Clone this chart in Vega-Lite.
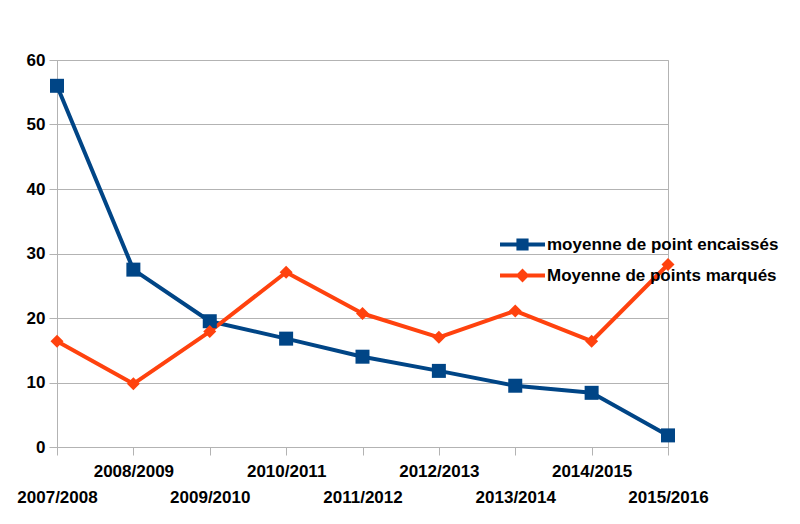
{
  "$schema": "https://vega.github.io/schema/vega-lite/v6.json",
  "autosize": "none",
  "width": 611,
  "height": 387,
  "padding": {"left": 57, "top": 60, "right": 132, "bottom": 77},
  "background": "white",
  "config": {
    "view": {"stroke": "#b3b3b3", "strokeWidth": 1},
    "font": "Liberation Sans"
  },
  "data": {
    "values": [
      {"season": "2007/2008", "series": "moyenne de point encaissés", "value": 56},
      {"season": "2008/2009", "series": "moyenne de point encaissés", "value": 27.5},
      {"season": "2009/2010", "series": "moyenne de point encaissés", "value": 19.5},
      {"season": "2010/2011", "series": "moyenne de point encaissés", "value": 16.8},
      {"season": "2011/2012", "series": "moyenne de point encaissés", "value": 14},
      {"season": "2012/2013", "series": "moyenne de point encaissés", "value": 11.8},
      {"season": "2013/2014", "series": "moyenne de point encaissés", "value": 9.5},
      {"season": "2014/2015", "series": "moyenne de point encaissés", "value": 8.4},
      {"season": "2015/2016", "series": "moyenne de point encaissés", "value": 1.8},
      {"season": "2007/2008", "series": "Moyenne de points marqués", "value": 16.4},
      {"season": "2008/2009", "series": "Moyenne de points marqués", "value": 9.8},
      {"season": "2009/2010", "series": "Moyenne de points marqués", "value": 17.9},
      {"season": "2010/2011", "series": "Moyenne de points marqués", "value": 27.1},
      {"season": "2011/2012", "series": "Moyenne de points marqués", "value": 20.7},
      {"season": "2012/2013", "series": "Moyenne de points marqués", "value": 17},
      {"season": "2013/2014", "series": "Moyenne de points marqués", "value": 21.1},
      {"season": "2014/2015", "series": "Moyenne de points marqués", "value": 16.4},
      {"season": "2015/2016", "series": "Moyenne de points marqués", "value": 28.3}
    ]
  },
  "encoding": {
    "x": {
      "field": "season",
      "type": "ordinal",
      "scale": {"type": "point", "padding": 0},
      "axis": {
        "title": null,
        "labelAngle": 0,
        "labelFont": "Liberation Sans",
        "labelFontSize": 17,
        "labelFontWeight": "bold",
        "labelColor": "black",
        "labelBaseline": "top",
        "labelPadding": {
          "condition": {"test": "indexof(['2008/2009','2010/2011','2012/2013','2014/2015'], datum.value) >= 0", "value": 8},
          "value": 34
        },
        "labelOverlap": false,
        "labelFlush": false,
        "domainColor": "#b3b3b3",
        "tickColor": "#b3b3b3",
        "tickSize": 8,
        "grid": false
      }
    },
    "y": {
      "field": "value",
      "type": "quantitative",
      "scale": {"domain": [0, 60], "nice": false},
      "axis": {
        "title": null,
        "values": [0, 10, 20, 30, 40, 50, 60],
        "labelFont": "Liberation Sans",
        "labelFontSize": 17,
        "labelFontWeight": "bold",
        "labelColor": "black",
        "labelPadding": 4,
        "domainColor": "#b3b3b3",
        "tickColor": "#b3b3b3",
        "tickSize": 8,
        "gridColor": "#b3b3b3",
        "gridWidth": 1
      }
    },
    "color": {
      "field": "series",
      "type": "nominal",
      "scale": {
        "domain": ["moyenne de point encaissés", "Moyenne de points marqués"],
        "range": ["#004586", "#ff420e"]
      },
      "legend": {
        "title": null,
        "orient": "none",
        "legendX": 443,
        "legendY": 162,
        "padding": 0,
        "symbolSize": 2025,
        "rowPadding": -8,
        "labelOffset": 2,
        "labelFont": "Liberation Sans",
        "labelFontSize": 17,
        "labelFontWeight": "bold",
        "labelColor": "black",
        "labelLimit": 400,
        "encode": {
          "symbols": {
            "update": {
              "shape": {"signal": "datum.value === 'moyenne de point encaissés' ? 'M-1,-0.09H-0.27V-0.27H0.27V-0.09H1V0.09H0.27V0.27H-0.27V0.09H-1Z' : 'M-1,-0.09H-0.22L0,-0.31L0.22,-0.09H1V0.09H0.22L0,0.31L-0.22,0.09H-1Z'"},
              "fill": {"signal": "datum.value === 'moyenne de point encaissés' ? '#004586' : '#ff420e'"},
              "fillOpacity": {"value": 1},
              "strokeWidth": {"value": 0},
              "opacity": {"value": 1}
            }
          }
        }
      }
    }
  },
  "layer": [
    {
      "mark": {"type": "line", "strokeWidth": 4, "strokeJoin": "round"}
    },
    {
      "transform": [{"filter": "datum.series === 'moyenne de point encaissés'"}],
      "mark": {"type": "point", "filled": true, "opacity": 1, "shape": "square", "size": 196}
    },
    {
      "transform": [{"filter": "datum.series === 'Moyenne de points marqués'"}],
      "mark": {"type": "point", "filled": true, "opacity": 1, "shape": "diamond", "size": 170}
    }
  ]
}
